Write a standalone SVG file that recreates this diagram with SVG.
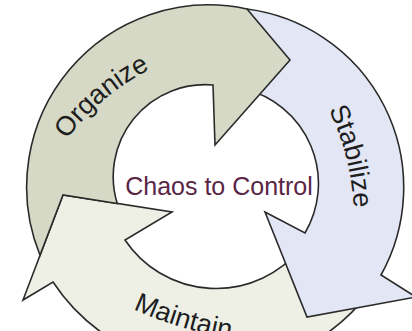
<svg xmlns="http://www.w3.org/2000/svg" width="412" height="331" viewBox="0 0 412 331">
  <style>
    .arrow { stroke: #2a2a2a; stroke-width: 1.6; stroke-linejoin: miter; }
    .label { font-family: "Liberation Sans", Arial, sans-serif; font-size: 27px; fill: #1e1e1e; }
    .hub { font-family: "Liberation Sans", Arial, sans-serif; font-size: 25px; fill: #5a2646; }
  </style>
  <defs>
    <!-- baselines for the curved stage labels -->
    <path id="organize-base" d="M 62,146 A 240 240 0 0 1 157,66"/>
    <path id="stabilize-base" d="M 326,104 A 260 260 0 0 1 354,214"/>
    <path id="maintain-base" d="M 133,309 A 400 400 0 0 0 248,341"/>
  </defs>
  <rect width="412" height="331" fill="#ffffff"/>

  <!-- bottom stage: tail tucked under the Stabilize head -->
  <g id="maintain">
    <path class="arrow" fill="#eef0e6" d="M 370,291.3 A 194 194 0 0 1 53,282 L 23,300 L 63,195 L 172,212 L 125,240 A 109.5 109.5 0 0 0 300,249.2 Z"/>
    <text class="label"><textPath href="#maintain-base">Maintain</textPath></text>
  </g>

  <!-- right stage: tail tucked under the Organize head -->
  <g id="stabilize">
    <path class="arrow" fill="#e3e6f4" d="M 247,9 A 180 180 0 0 1 381,275 L 416,297 L 307,317 L 265,212 L 305,233 A 97.6 97.6 0 0 0 245,89 Z"/>
    <text class="label"><textPath href="#stabilize-base" startOffset="50%" text-anchor="middle">Stabilize</textPath></text>
  </g>

  <!-- upper-left stage: notched tail fits round the Maintain head -->
  <g id="organize">
    <path class="arrow" fill="#d6d9c6" d="M 40,255.3 A 182 182 0 0 1 247,9 L 290,60 L 215,145 L 213,85 A 92 92 0 0 0 117.2,203.5 L 63,195 Z"/>
    <text class="label"><textPath href="#organize-base" startOffset="50%" text-anchor="middle">Organize</textPath></text>
  </g>

  <g id="center">
    <text class="hub" x="219" y="195" text-anchor="middle">Chaos to Control</text>
  </g>
</svg>
